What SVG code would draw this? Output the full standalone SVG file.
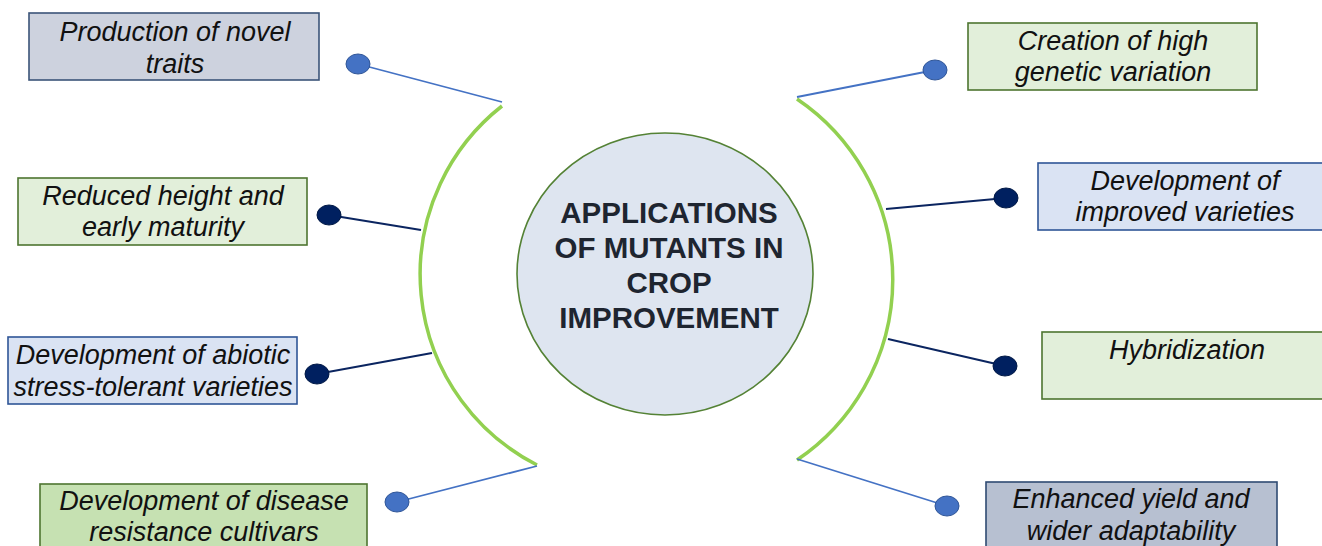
<svg xmlns="http://www.w3.org/2000/svg" width="1322" height="546" viewBox="0 0 1322 546">
  <style>
    .box { stroke-width: 1.6; }
    .grey { fill: #CDD2DE; stroke: #3B5478; }
    .greyd { fill: #B7C0D1; stroke: #2F4A72; }
    .green { fill: #E2EFDA; stroke: #4E7530; }
    .greend { fill: #C6E1B2; stroke: #4E7530; }
    .blue { fill: #DAE3F3; stroke: #2F5597; }
    .lbl { font-family: "Liberation Sans", Arial, sans-serif; font-style: italic; font-size: 27px; fill: #111111; text-anchor: middle; }
    .hub { font-family: "Liberation Sans", Arial, sans-serif; font-weight: bold; font-size: 29.5px; fill: #1E2530; text-anchor: middle; }
    .arc { fill: none; stroke: #92D050; stroke-width: 3.5; }
    .ln-l { stroke: #4472C4; stroke-width: 1.8; fill: none; }
    .ln-d { stroke: #0B2560; stroke-width: 2; fill: none; }
    .dot-l { fill: #4472C4; stroke: #2F5597; stroke-width: 1; }
    .dot-d { fill: #002060; stroke: #001845; stroke-width: 1; }
  </style>

  <rect width="1322" height="546" fill="#FFFFFF"/>

  <!-- brackets and spokes -->
  <g id="connectors">
    <path class="arc" d="M 502 106 A 214 214 0 0 0 537 465"/>
    <path class="arc" d="M 797 99 A 218 218 0 0 1 797 460"/>

    <line class="ln-l" x1="358" y1="64" x2="502" y2="102"/>
    <line class="ln-d" x1="329" y1="215" x2="421" y2="230"/>
    <line class="ln-d" x1="317" y1="374" x2="432" y2="353"/>
    <line class="ln-l" x1="397" y1="502" x2="537" y2="466"/>

    <line class="ln-l" x1="797" y1="97" x2="935" y2="70"/>
    <line class="ln-d" x1="886" y1="209" x2="1006" y2="198"/>
    <line class="ln-d" x1="888" y1="339" x2="1005" y2="366"/>
    <line class="ln-l" x1="797" y1="459" x2="947" y2="506"/>

    <ellipse class="dot-l" cx="358" cy="64" rx="12" ry="10"/>
    <ellipse class="dot-d" cx="329" cy="215" rx="12" ry="10"/>
    <ellipse class="dot-d" cx="317" cy="374" rx="12" ry="10"/>
    <ellipse class="dot-l" cx="397" cy="502" rx="12" ry="10"/>
    <ellipse class="dot-l" cx="935" cy="70" rx="12" ry="10"/>
    <ellipse class="dot-d" cx="1006" cy="198" rx="12" ry="10"/>
    <ellipse class="dot-d" cx="1005" cy="366" rx="12" ry="10"/>
    <ellipse class="dot-l" cx="947" cy="506" rx="12" ry="10"/>
  </g>

  <!-- central hub -->
  <g id="hub">
    <ellipse cx="665" cy="274" rx="148" ry="141" fill="#DEE5F0" stroke="#548235" stroke-width="1.6"/>
    <text class="hub" x="669" y="223">APPLICATIONS</text>
    <text class="hub" x="669" y="258">OF MUTANTS IN</text>
    <text class="hub" x="669" y="293">CROP</text>
    <text class="hub" x="669" y="328">IMPROVEMENT</text>
  </g>

  <!-- left column -->
  <g id="novel-traits">
    <rect class="box grey" x="29" y="13" width="290" height="67"/>
    <text class="lbl" x="175" y="41">Production of novel</text>
    <text class="lbl" x="175" y="73">traits</text>
  </g>
  <g id="reduced-height">
    <rect class="box green" x="18" y="178" width="289" height="67"/>
    <text class="lbl" x="163" y="205">Reduced height and</text>
    <text class="lbl" x="163" y="236">early maturity</text>
  </g>
  <g id="abiotic-stress">
    <rect class="box blue" x="8" y="337" width="289" height="67"/>
    <text class="lbl" x="153" y="364">Development of abiotic</text>
    <text class="lbl" x="153" y="396">stress-tolerant varieties</text>
  </g>
  <g id="disease-resistance">
    <rect class="box greend" x="40" y="484" width="327" height="70"/>
    <text class="lbl" x="204" y="510">Development of disease</text>
    <text class="lbl" x="204" y="541">resistance cultivars</text>
  </g>

  <!-- right column -->
  <g id="genetic-variation">
    <rect class="box green" x="968" y="23" width="289" height="67"/>
    <text class="lbl" x="1113" y="50">Creation of high</text>
    <text class="lbl" x="1113" y="81">genetic variation</text>
  </g>
  <g id="improved-varieties">
    <rect class="box blue" x="1038" y="163" width="294" height="67"/>
    <text class="lbl" x="1185" y="190">Development of</text>
    <text class="lbl" x="1185" y="221">improved varieties</text>
  </g>
  <g id="hybridization">
    <rect class="box green" x="1042" y="332" width="290" height="67"/>
    <text class="lbl" x="1187" y="359">Hybridization</text>
  </g>
  <g id="enhanced-yield">
    <rect class="box greyd" x="986" y="482" width="291" height="72"/>
    <text class="lbl" x="1131" y="508">Enhanced yield and</text>
    <text class="lbl" x="1131" y="540">wider adaptability</text>
  </g>
</svg>
